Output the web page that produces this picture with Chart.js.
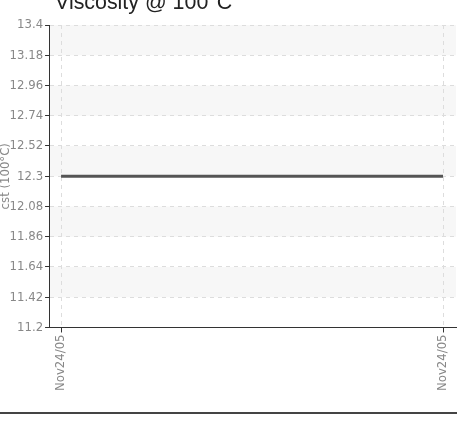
<!DOCTYPE html>
<html>
<head>
<meta charset="utf-8">
<script src="https://cdn.jsdelivr.net/npm/chart.js@4/dist/chart.umd.min.js"></script>
<style>
  html, body { margin: 0; padding: 0; background: #fff; overflow: hidden; }
  .wrap { position: relative; width: 457px; height: 412px; border-bottom: 2px solid #444; }
  canvas { display: block; }
</style>
</head>
<body>
<div class="wrap"><canvas id="chart" width="457" height="412"></canvas></div>
<script>
// data
const dates = ['Nov24/05', 'Nov24/05'];
const positions = [0, 1];
const viscosity = [12.3, 12.3];
const yTicks = [13.4, 13.18, 12.96, 12.74, 12.52, 12.3, 12.08, 11.86, 11.64, 11.42, 11.2];

const TITLE = 'Viscosity @ 100\u00B0C';
const AXIS_FONT = 'DejaVu Sans Condensed';

// alternate grey bands between the y ticks (under the grid), and the cut-off title
const bands = {
  id: 'bands',
  beforeDraw(chart) {
    const { ctx, chartArea, scales } = chart;
    ctx.save();
    ctx.fillStyle = '#f7f7f7';
    for (let i = 0; i < yTicks.length - 1; i += 2) {
      const top = scales.y.getPixelForValue(yTicks[i]);
      const bottom = scales.y.getPixelForValue(yTicks[i + 1]);
      ctx.fillRect(chartArea.left, top, chartArea.right - chartArea.left, bottom - top);
    }
    ctx.restore();
  },
  afterDraw(chart) {
    const ctx = chart.ctx;
    ctx.save();
    ctx.font = '21.4px "Liberation Sans"';
    ctx.fillStyle = '#222';
    ctx.textBaseline = 'alphabetic';
    ctx.fillText(TITLE, 55, 9);
    ctx.restore();
  }
};

const chart = new Chart(document.getElementById('chart'), {
  type: 'line',
  plugins: [bands],
  data: {
    datasets: [{
      label: 'Viscosity',
      data: positions.map((x, i) => ({ x: x, y: viscosity[i] })),
      borderColor: '#555',
      borderWidth: 3,
      pointRadius: 0,
      fill: false,
    }],
  },
  options: {
    animation: false,
    responsive: false,
    layout: { padding: { top: 25, right: 1, bottom: 19, left: 0 } },
    plugins: { legend: { display: false }, tooltip: { enabled: false }, title: { display: false } },
    scales: {
      x: {
        type: 'linear',
        min: -0.0314,
        max: 1.034,
        afterBuildTicks: (scale) => { scale.ticks = positions.map((v) => ({ value: v })); },
        afterFit: (scale) => { scale.paddingLeft = 0; scale.paddingRight = 0; },
        ticks: {
          callback: (v, i) => dates[i],
          color: '#888',
          font: { family: AXIS_FONT, size: 13 },
          maxRotation: 90,
          minRotation: 90,
          padding: 2,
        },
        grid: { color: '#ddd', tickColor: '#333', tickLength: 5 },
        border: { display: true, color: '#333', dash: [4, 4] },
      },
      y: {
        min: 11.2,
        max: 13.4,
        afterBuildTicks: (scale) => { scale.ticks = yTicks.map((v) => ({ value: v })); },
        ticks: {
          callback: (v) => String(v),
          color: '#888',
          font: { family: AXIS_FONT, size: 13 },
          padding: 2,
        },
        grid: { color: '#ddd', tickColor: '#333', tickLength: 4 },
        border: { display: true, color: '#333', dash: [4, 4] },
        title: {
          display: true,
          text: 'cst (100\u00B0C)',
          color: '#888',
          font: { family: AXIS_FONT, size: 13 },
          padding: { top: -2, bottom: -6 },
        },
      },
    },
  },
});
</script>
</body>
</html>
